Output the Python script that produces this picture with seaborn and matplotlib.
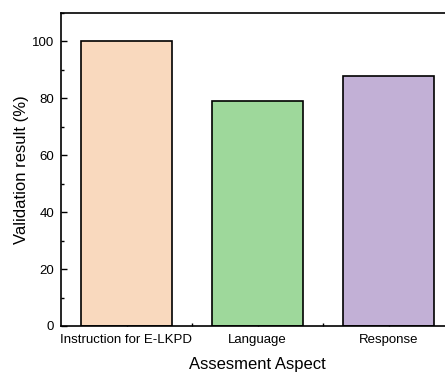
import matplotlib
matplotlib.use("Agg")
import matplotlib.pyplot as plt
import seaborn as sns
import pandas as pd
from matplotlib.ticker import MultipleLocator, FixedLocator

aspects = ["Instruction for E-LKPD", "Language", "Response"]
results = [100, 79, 88]
bar_colors = ["#F9D9BE", "#9ED89B", "#C2B0D6"]

df = pd.DataFrame({"aspect": aspects, "result": results})

sns.set_style("ticks")
plt.rcParams["font.family"] = ["Liberation Sans", "DejaVu Sans"]
plt.rcParams["text.color"] = "black"
plt.rcParams["axes.labelcolor"] = "black"
plt.rcParams["xtick.color"] = "black"
plt.rcParams["ytick.color"] = "black"

fig = plt.figure(figsize=(4.45, 3.73), dpi=100)
ax = fig.add_axes([61 / 445, 47 / 373, 393 / 445, 313 / 373])

sns.barplot(data=df, x="aspect", y="result", hue="aspect", palette=bar_colors,
            saturation=1, width=0.7, edgecolor="black", linewidth=1.2,
            legend=False, ax=ax)

ax.set_xlim(-0.5, 2.5)
ax.set_ylim(0, 110)
ax.yaxis.set_major_locator(MultipleLocator(20))
ax.yaxis.set_minor_locator(MultipleLocator(10))
ax.xaxis.set_minor_locator(FixedLocator([0.5, 1.5]))
ax.tick_params(axis="both", which="major", direction="in", length=4, width=1,
               labelsize=9.5)
ax.tick_params(axis="x", which="major", pad=6)
ax.tick_params(axis="y", which="major", pad=5)
ax.tick_params(axis="both", which="minor", direction="in", length=2, width=1)
for s in ax.spines.values():
    s.set_linewidth(1.2)
    s.set_color("black")

ax.set_xlabel("Assesment Aspect", fontsize=12, labelpad=8)
ax.set_ylabel("Validation result (%)", fontsize=12, labelpad=2)

fig.savefig("out.png", dpi=100)
plt.close(fig)
